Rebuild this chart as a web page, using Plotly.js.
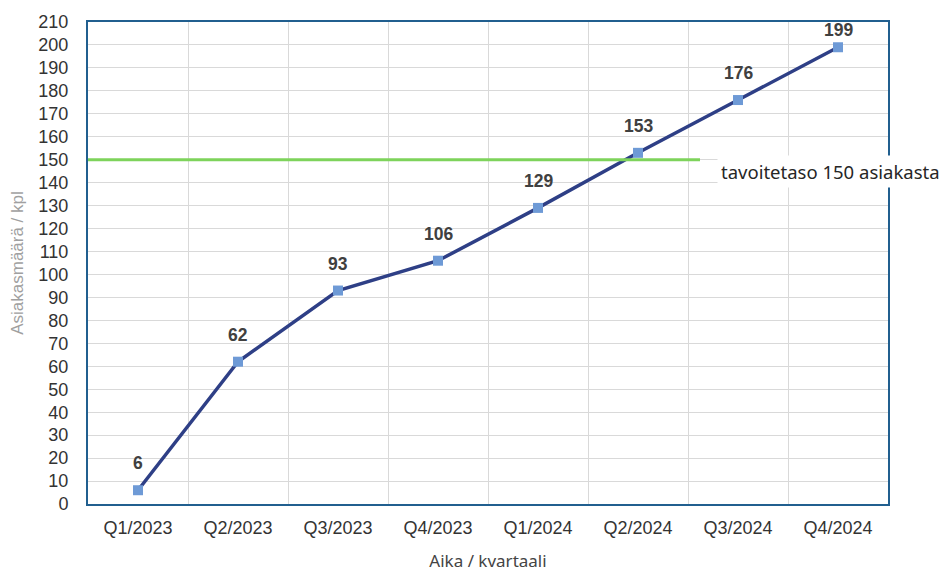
<!DOCTYPE html>
<html>
<head>
<meta charset="utf-8">
<script src="https://cdn.plot.ly/plotly-3.0.1.min.js"></script>
<style>html,body{margin:0;padding:0;background:#fff;}#chart{width:947px;height:572px;}</style>
</head>
<body>
<div id="chart"></div>
<script>
const categories = ["Q1/2023","Q2/2023","Q3/2023","Q4/2023","Q1/2024","Q2/2024","Q3/2024","Q4/2024"];
const customers = [6, 62, 93, 106, 129, 153, 176, 199];
const targetLevel = 150;
const targetLabel = "tavoitetaso 150 asiakasta";
const yTitle = "Asiakasmäärä / kpl";
const xTitle = "Aika / kvartaali";

const xIdx = categories.map((_, i) => i);

const trace = {
  x: xIdx, y: customers, type: "scatter", mode: "lines+markers",
  line: {color: "#2e3f86", width: 3.5},
  marker: {symbol: "square", size: 10, color: "#6e9ad6"},
  hoverinfo: "skip", showlegend: false
};

const annotations = customers.map((v, i) => ({
  x: xIdx[i], y: v, xref: "x", yref: "y", text: String(v), showarrow: false,
  yshift: i === customers.length - 1 ? 17 : 27,
  font: {family: "Liberation Sans, Arial", size: 17.5, color: "#404040", weight: "bold"}
}));
annotations.push({
  x: 5.79, y: targetLevel, xref: "x", yref: "y", text: targetLabel, showarrow: false,
  xanchor: "left", yanchor: "middle", yshift: -12, bgcolor: "#ffffff", borderpad: 3,
  font: {family: "Noto Sans", size: 18.5, color: "#262626"}
});

const layout = {
  width: 947, height: 572,
  margin: {l: 88, r: 59, t: 22, b: 68},
  paper_bgcolor: "#ffffff", plot_bgcolor: "#ffffff",
  xaxis: {
    range: [-0.5, 7.5], tickvals: xIdx, ticktext: categories,
    showgrid: false, zeroline: false,
    minor: {tick0: 0.5, dtick: 1, showgrid: true, gridcolor: "#d9d9d9", gridwidth: 1},
    showline: true, mirror: true, linecolor: "#215f8f", linewidth: 2,
    ticks: "", ticklabelstandoff: 6,
    tickfont: {family: "Liberation Sans, Arial", size: 18, color: "#333333"},
    title: {text: xTitle, standoff: 20, font: {family: "Noto Sans", size: 17, color: "#444444"}}
  },
  yaxis: {
    range: [0, 210], dtick: 10, tick0: 0,
    showgrid: true, gridcolor: "#d9d9d9", gridwidth: 1, zeroline: false,
    showline: true, mirror: true, linecolor: "#215f8f", linewidth: 2,
    ticks: "", ticklabelstandoff: 14,
    tickfont: {family: "Liberation Sans, Arial", size: 18, color: "#333333"},
    title: {text: yTitle, standoff: 10, font: {family: "Liberation Sans, Arial", size: 17, color: "#a0a0a0"}}
  },
  shapes: [{
    type: "line", xref: "x", yref: "y", x0: -0.53, x1: 5.62, y0: targetLevel, y1: targetLevel,
    line: {color: "#7ed35b", width: 3}
  }],
  annotations: annotations
};

Plotly.newPlot("chart", [trace], layout, {displayModeBar: false, staticPlot: true});
</script>
</body>
</html>
